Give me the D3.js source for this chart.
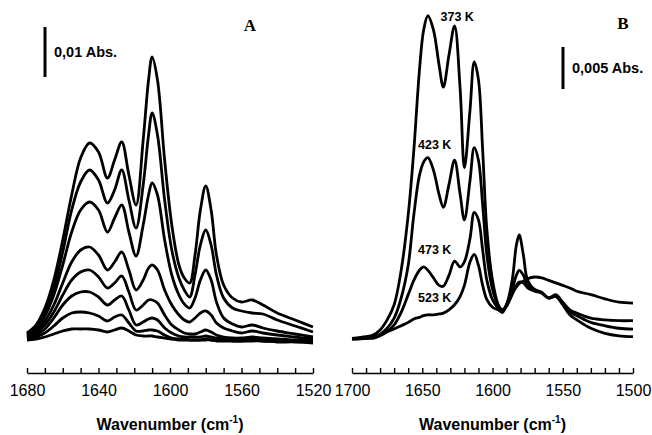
<!DOCTYPE html>
<html>
<head>
<meta charset="utf-8">
<script src="https://cdn.jsdelivr.net/npm/d3@7"></script>
<style>
    body { margin: 0; background: #fff; }
    svg { display: block; font-family: "Liberation Sans", Arial, sans-serif; }
</style>
</head>
<body>
<svg id="chart" width="652" height="435"></svg>
<script>
// Panel A: wavenumber (cm-1) and absorbance (mAbs), 8 spectra top to bottom
const wnA = [1680, 1675, 1670, 1665, 1660, 1655, 1650, 1645, 1640, 1635, 1631, 1627, 1623, 1619, 1615, 1612, 1610, 1607,
    1603, 1599, 1595, 1592, 1589, 1586, 1583, 1580, 1577, 1574, 1570, 1565, 1560, 1554, 1548, 1540, 1530, 1520];
const absA1 = [1.8, 3.4, 6.8, 12.4, 20.4, 29.4, 36.8, 39.8, 38.0, 32.8, 36.4, 40.0, 33.4, 27.4, 40.4, 52.4, 57.0, 52.4,
    36.4, 23.4, 15.4, 12.8, 11.8, 17.4, 26.4, 31.2, 26.4, 17.4, 11.4, 8.8, 8.0, 8.4, 7.4, 5.8, 4.4, 3.0];
const absA2 = [1.6, 3.0, 6.0, 10.8, 18.0, 26.4, 32.0, 34.4, 32.4, 27.8, 30.4, 34.4, 28.4, 22.8, 31.4, 41.4, 45.8, 41.4,
    28.4, 18.4, 12.8, 10.4, 9.0, 13.4, 19.4, 22.4, 19.4, 13.4, 8.8, 6.8, 6.2, 5.8, 5.6, 4.4, 3.2, 2.0];
const absA3 = [1.4, 2.6, 5.2, 9.4, 15.4, 22.0, 26.4, 28.0, 26.4, 22.0, 24.8, 27.4, 22.0, 17.2, 23.4, 29.4, 31.8, 29.4,
    20.4, 13.4, 9.4, 7.6, 6.8, 8.8, 12.4, 14.4, 12.4, 8.0, 4.8, 3.6, 3.0, 3.4, 2.8, 2.2, 1.6, 1.0];
const absA4 = [1.2, 2.2, 4.2, 7.4, 11.8, 16.0, 18.4, 19.0, 17.4, 14.4, 16.0, 18.0, 14.4, 10.4, 12.4, 14.8, 15.4, 14.4,
    10.4, 7.4, 5.4, 4.4, 4.0, 4.8, 5.8, 6.2, 5.4, 3.8, 2.8, 2.2, 1.8, 2.2, 1.8, 1.4, 1.0, 0.6];
const absA5 = [1.0, 1.8, 3.4, 6.0, 9.4, 12.4, 14.0, 14.4, 13.0, 10.8, 11.8, 13.2, 10.0, 6.4, 7.4, 8.4, 8.4, 7.8,
    5.4, 3.4, 2.4, 1.8, 1.6, 1.6, 2.0, 2.4, 2.0, 1.4, 1.0, 0.8, 0.8, 1.0, 0.8, 0.6, 0.4, 0.4];
const absA6 = [0.8, 1.4, 2.6, 4.8, 7.4, 9.2, 10.0, 10.0, 9.0, 7.4, 8.4, 9.2, 6.4, 3.4, 4.0, 4.6, 4.8, 4.4,
    2.8, 1.8, 1.2, 1.0, 1.0, 1.0, 1.0, 1.2, 1.0, 0.8, 0.6, 0.6, 0.4, 0.6, 0.4, 0.4, 0.2, 0.2];
const absA7 = [0.6, 1.0, 1.8, 3.2, 4.8, 5.8, 6.0, 5.8, 5.2, 4.2, 5.0, 5.4, 3.8, 2.2, 2.2, 2.4, 2.4, 2.2,
    1.4, 0.8, 0.6, 0.6, 0.4, 0.4, 0.4, 0.6, 0.4, 0.4, 0.4, 0.2, 0.2, 0.4, 0.2, 0.2, 0.2, 0.0];
const absA8 = [0.4, 0.6, 1.0, 1.6, 2.2, 2.6, 2.6, 2.6, 2.4, 2.0, 2.4, 2.8, 2.2, 1.4, 1.2, 1.2, 1.2, 1.0,
    0.8, 0.6, 0.4, 0.4, 0.4, 0.4, 0.4, 0.4, 0.4, 0.2, 0.2, 0.2, 0.2, 0.2, 0.2, 0.0, 0.0, -0.2];

// Panel B: wavenumber (cm-1) and absorbance (mAbs) at 4 temperatures
const wnB = [1700, 1690, 1685, 1680, 1675, 1670, 1665, 1660, 1656, 1652, 1649, 1646, 1642, 1638, 1635, 1631, 1627,
    1623, 1620, 1616, 1613, 1610, 1607, 1604, 1600, 1596, 1593, 1590, 1586, 1583, 1581, 1578, 1575, 1570, 1565,
    1560, 1555, 1550, 1545, 1540, 1530, 1520, 1510, 1500];
const abs373 = [0.2, 0.4, 0.6, 1.2, 2.4, 4.2, 8.3, 14.9, 22.6, 32.1, 36.9, 38.6, 36.9, 32.7, 30.1, 33.9, 37.4,
    29.8, 20.5, 27.4, 33.1, 31.0, 22.6, 13.1, 7.1, 4.2, 3.3, 4.2, 7.1, 11.3, 12.5, 10.1, 7.1, 6.0, 5.7,
    5.0, 5.2, 4.2, 3.0, 2.4, 1.4, 0.8, 0.5, 0.4];
const abs423 = [0.2, 0.2, 0.4, 0.7, 1.4, 2.6, 5.0, 8.9, 14.9, 19.6, 21.2, 21.7, 20.2, 17.3, 15.8, 18.5, 21.4,
    17.3, 14.3, 19.0, 22.9, 21.4, 16.1, 10.1, 6.0, 4.2, 3.6, 4.2, 6.0, 7.7, 8.3, 7.7, 6.5, 6.0, 5.6,
    5.0, 5.2, 4.4, 3.3, 2.9, 2.1, 1.7, 1.4, 1.3];
const abs473 = [0.1, 0.2, 0.2, 0.5, 1.0, 1.8, 3.3, 5.4, 7.1, 8.3, 8.7, 8.3, 7.4, 6.5, 6.4, 7.7, 9.4,
    8.7, 9.3, 12.1, 15.2, 14.3, 10.7, 7.1, 4.8, 3.8, 3.5, 4.0, 5.4, 6.5, 6.9, 6.8, 6.2, 5.8, 5.6,
    5.0, 5.4, 4.5, 3.6, 3.2, 2.6, 2.4, 2.3, 2.3];
const abs523 = [0.1, 0.2, 0.4, 0.6, 1.0, 1.3, 1.7, 2.1, 2.5, 2.7, 2.9, 3.0, 3.0, 3.1, 3.2, 3.6, 4.2,
    5.2, 6.5, 9.3, 10.2, 8.9, 6.5, 4.8, 3.9, 3.6, 3.3, 4.2, 5.6, 6.3, 6.7, 7.0, 7.3, 7.5, 7.4,
    7.1, 6.8, 6.5, 6.2, 5.8, 5.4, 4.9, 4.5, 4.4];
const tempLabels = ["373 K", "423 K", "473 K", "523 K"];

class SpectrumPanel {
    constructor(_config, _wn, _series) {
        this.config = _config;
        this.wn = _wn;
        this.series = _series;
        this.initVis();
    }

    initVis() {
        let vis = this;
        const c = vis.config;

        vis.svg = d3.select("#chart");
        vis.g = vis.svg.append("g");

        vis.x = d3.scaleLinear().domain(c.xDomain).range(c.xRange);
        // absorbance in mAbs
        vis.y = d3.scaleLinear().domain([0, c.yMax]).range([c.yZero, c.yZero - c.yMax * c.pxPerUnit]);

        vis.line = d3.line()
            .x((d) => vis.x(d[0]))
            .y((d) => vis.y(d[1]))
            .curve(d3.curveCatmullRom.alpha(0.5));

        vis.renderVis();
    }

    renderVis() {
        let vis = this;
        const c = vis.config;

        vis.g.selectAll(".spec")
            .data(vis.series.map((s) => vis.wn.map((w, i) => [w, s[i]])))
            .join("path")
            .attr("class", "spec")
            .attr("d", vis.line)
            .attr("fill", "none")
            .attr("stroke", "#000")
            .attr("stroke-width", 2.8)
            .attr("stroke-linejoin", "round");

        // bottom axis, minor ticks every 10, labels every labelStep
        const ticks = d3.range(c.xDomain[1], c.xDomain[0] + 1, 10);
        const axis = d3.axisBottom(vis.x)
            .tickValues(ticks)
            .tickSizeInner(-5)
            .tickSizeOuter(0)
            .tickPadding(12)
            .tickFormat((d) => (d % c.labelStep === 0 ? d : ""));

        const ax = vis.g.append("g")
            .attr("transform", `translate(0,${c.axisY})`)
            .call(axis);
        ax.select(".domain").attr("stroke-width", 1.6);
        ax.selectAll(".tick line").attr("stroke-width", 1.4);
        ax.selectAll(".tick text")
            .attr("font-family", "Liberation Sans, Arial, sans-serif")
            .attr("font-size", 16)
            .attr("fill", "#000");

        const title = vis.g.append("text")
            .attr("x", (c.xRange[0] + c.xRange[1]) / 2)
            .attr("y", 430)
            .attr("text-anchor", "middle")
            .attr("font-size", 16)
            .attr("font-weight", "bold");
        title.append("tspan").text("Wavenumber (cm");
        title.append("tspan").attr("font-size", 10).attr("dy", -7).text("-1");
        title.append("tspan").attr("dy", 7).text(")");

        // panel letter
        vis.g.append("text")
            .attr("x", c.letterPos[0])
            .attr("y", c.letterPos[1])
            .attr("text-anchor", "middle")
            .attr("font-family", "Liberation Serif, Times New Roman, serif")
            .attr("font-weight", "bold")
            .attr("font-size", 17)
            .text(c.letter);

        // absorbance scale bar
        const barLen = vis.y(0) - vis.y(c.barValue);
        vis.g.append("line")
            .attr("x1", c.barPos[0]).attr("x2", c.barPos[0])
            .attr("y1", c.barPos[1]).attr("y2", c.barPos[1] + barLen)
            .attr("stroke", "#000")
            .attr("stroke-width", 3);
        vis.g.append("text")
            .attr("x", c.barPos[0] + 9)
            .attr("y", c.barPos[1] + barLen / 2 + 5)
            .attr("font-size", 14.5)
            .attr("font-weight", "bold")
            .text(c.barText);

        if (c.labels) {
            vis.g.selectAll(".tlabel")
                .data(c.labels)
                .join("text")
                .attr("class", "tlabel")
                .attr("x", (d) => vis.x(d.wn))
                .attr("y", (d) => vis.y(d.abs) + 4)
                .attr("font-size", 12.5)
                .attr("font-weight", "bold")
                .text((d) => d.text);
        }
    }
}

new SpectrumPanel({
    xDomain: [1680, 1520], xRange: [27, 313],
    yMax: 60, yZero: 342, pxPerUnit: 5,
    axisY: 373, labelStep: 40,
    letter: "A", letterPos: [250, 31],
    barValue: 10, barPos: [45, 27], barText: "0,01 Abs."
}, wnA, [absA1, absA2, absA3, absA4, absA5, absA6, absA7, absA8]);

new SpectrumPanel({
    xDomain: [1700, 1500], xRange: [352, 633],
    yMax: 40, yZero: 340, pxPerUnit: 8.4,
    axisY: 373, labelStep: 50,
    letter: "B", letterPos: [623, 29],
    barValue: 5, barPos: [563, 47], barText: "0,005 Abs.",
    labels: [
        { text: tempLabels[0], wn: 1637, abs: 38.4 },
        { text: tempLabels[1], wn: 1653, abs: 23.2 },
        { text: tempLabels[2], wn: 1653, abs: 10.7 },
        { text: tempLabels[3], wn: 1653, abs: 5.0 }
    ]
}, wnB, [abs373, abs423, abs473, abs523]);
</script>
</body>
</html>
